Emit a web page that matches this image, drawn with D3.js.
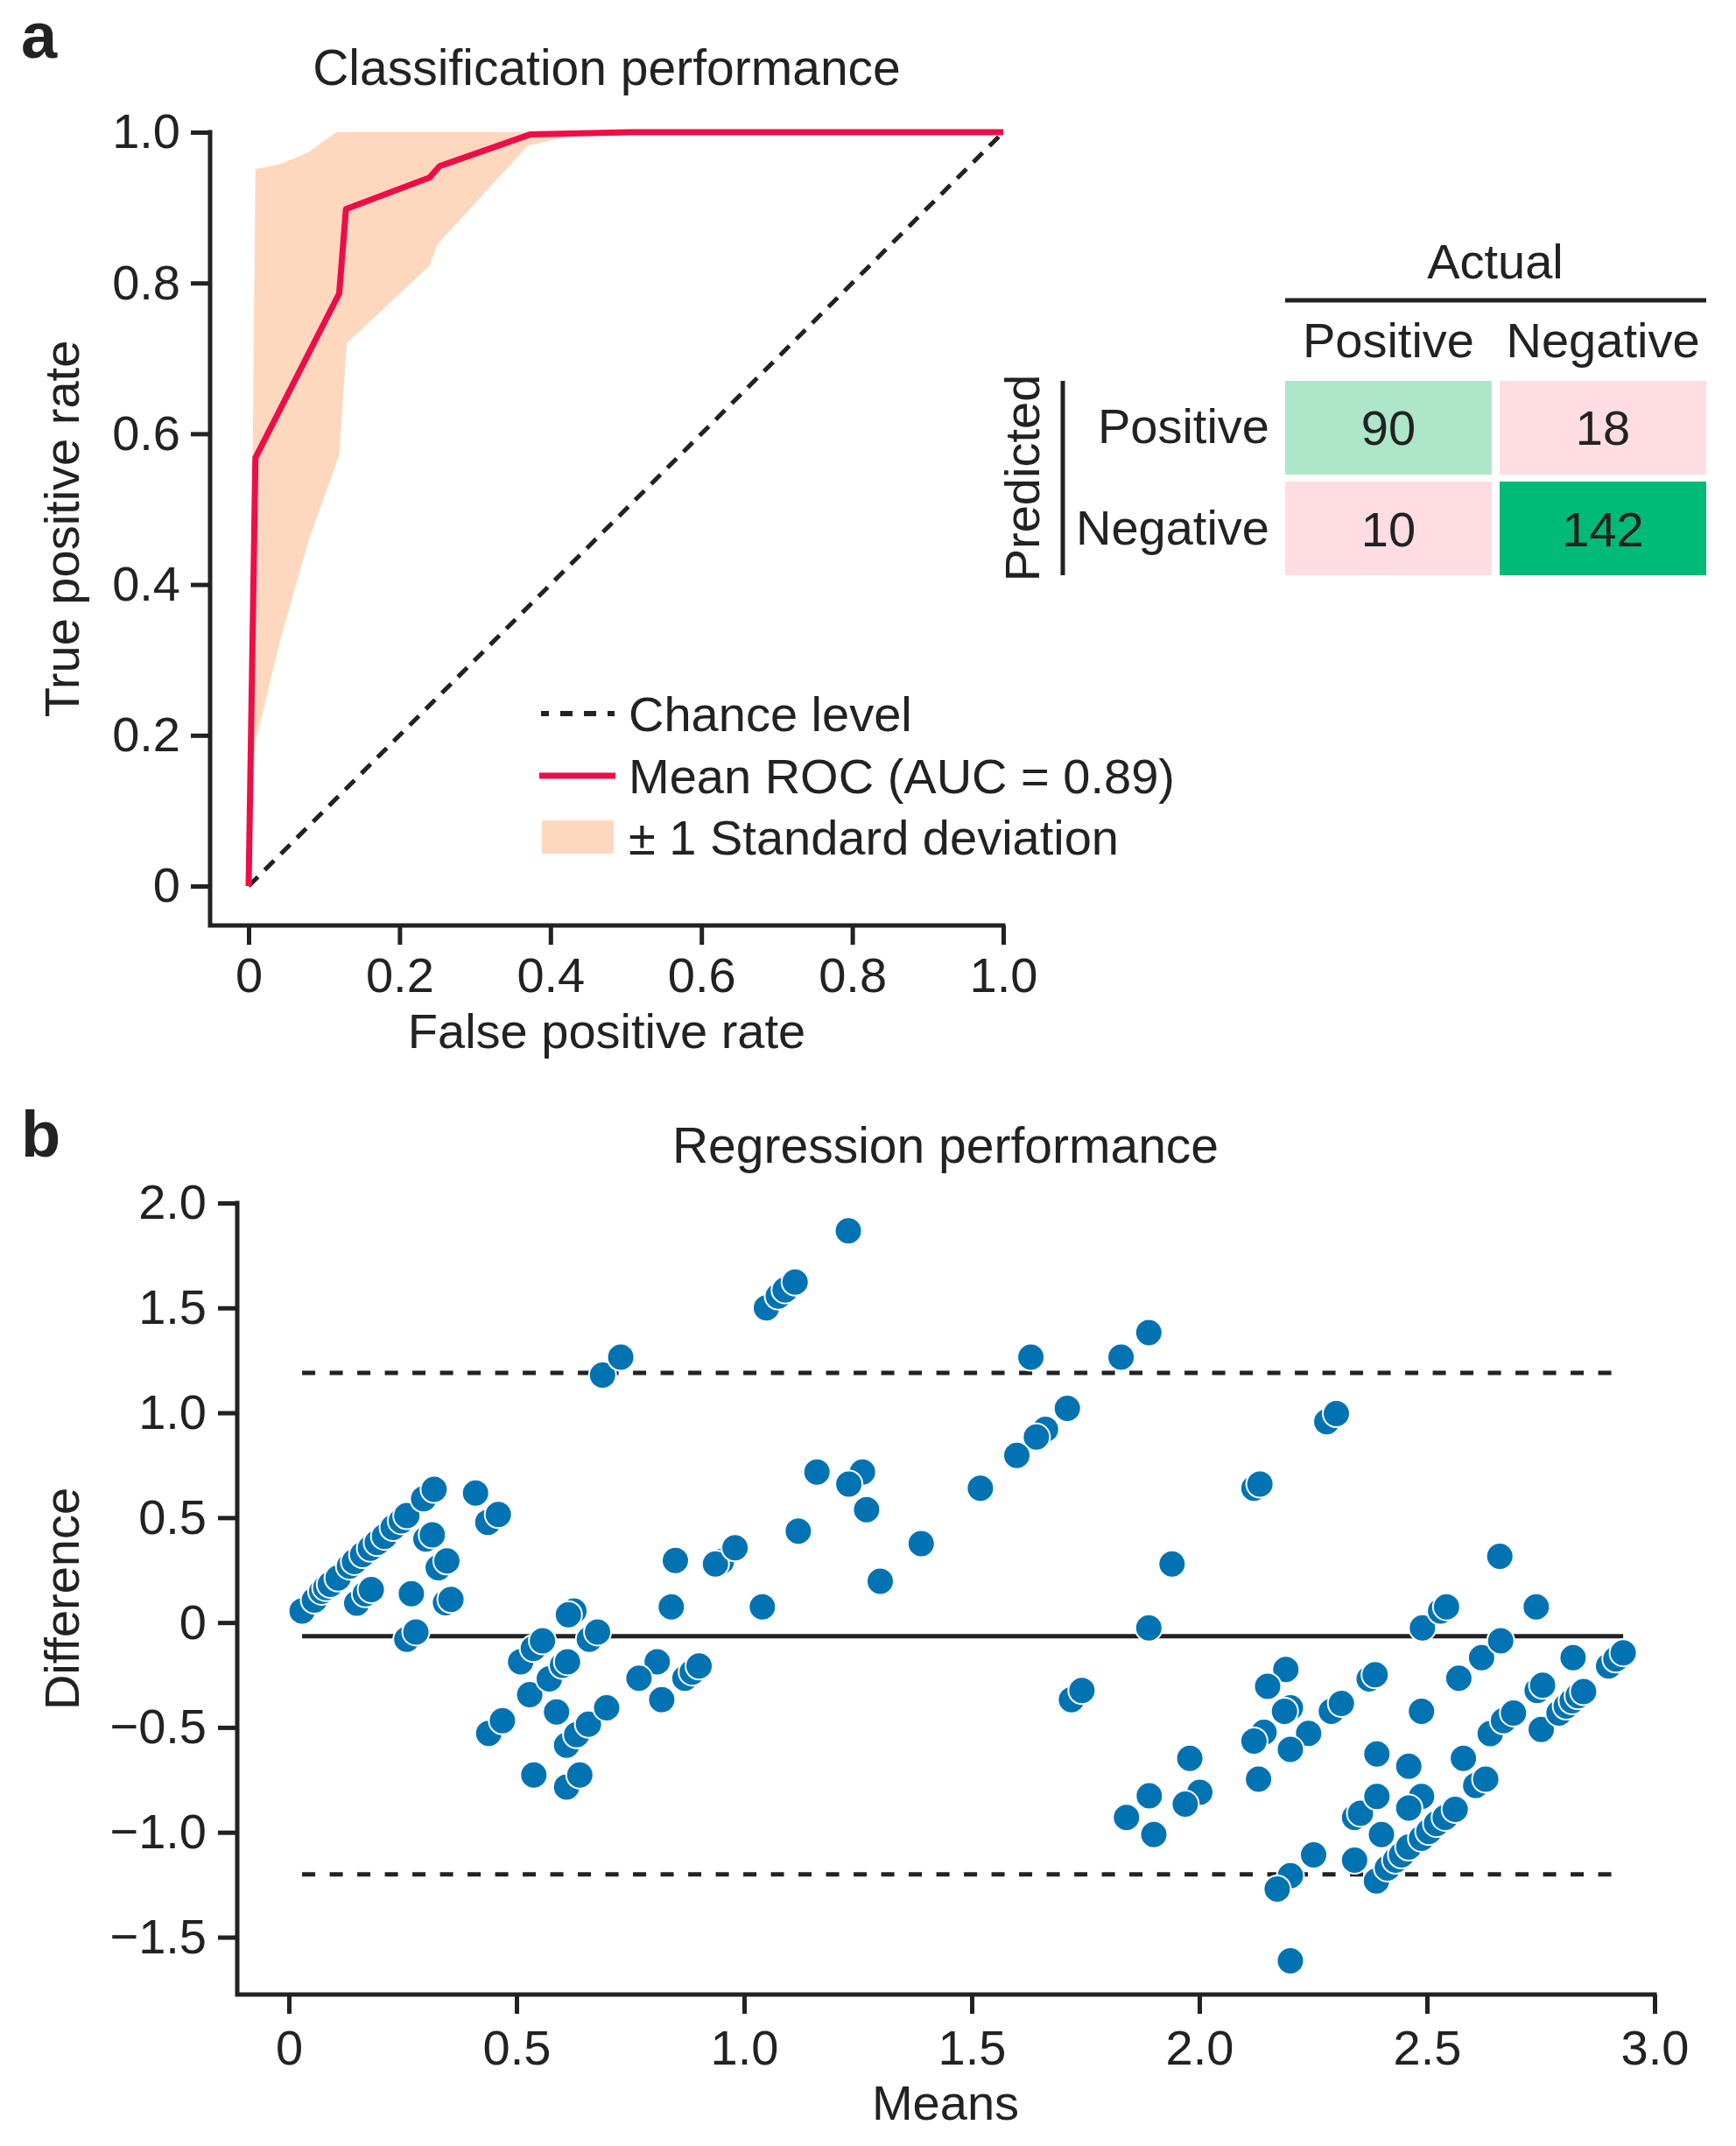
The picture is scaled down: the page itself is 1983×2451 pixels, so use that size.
<!DOCTYPE html>
<html>
<head>
<meta charset="utf-8">
<script src="https://cdn.jsdelivr.net/npm/d3@7"></script>
<style>
  body { margin: 0; background: #fff; }
  text { font-family: "Liberation Sans", Arial, sans-serif; fill: #222; }
</style>
</head>
<body>
<div id="chart"></div>
<script>
// ---- panel a: ROC ----
var rocFpr = [0, 0.009, 0.12, 0.129, 0.24, 0.253, 0.373, 0.507, 1.0];
var rocTpr = [0, 0.568, 0.786, 0.898, 0.940, 0.955, 0.997, 1.0, 1.0];

var bandFpr  = [0, 0.009, 0.043, 0.08, 0.116, 0.12, 0.13, 0.24, 0.25, 0.37, 0.45, 1.0];
var bandLow  = [0, 0.19, 0.33, 0.46, 0.56, 0.57, 0.72, 0.823, 0.851, 0.982, 1.0, 1.0];
var bandHigh = [0, 0.951, 0.958, 0.974, 1.0, 1.0, 1.0, 1.0, 1.0, 1.0, 1.0, 1.0];

var rocTicks = [0, 0.2, 0.4, 0.6, 0.8, 1.0];
var legendLabels = ["Chance level", "Mean ROC (AUC = 0.89)", "\u00b1 1 Standard deviation"];

// confusion matrix
var cmCols = ["Positive", "Negative"];
var cmRows = ["Positive", "Negative"];
var cmValues = [[90, 18], [10, 142]];

// ---- panel b: Bland-Altman ----
var baMeans = [
  0.029, 0.056, 0.072, 0.081, 0.091, 0.108, 0.133, 0.144, 0.162, 0.179, 0.194, 0.210, 0.229, 0.247, 0.259, 0.296, 0.319,
  0.149, 0.168, 0.181, 0.269, 0.259, 0.279, 0.301, 0.315, 0.328, 0.347, 0.344, 0.356, 0.410, 0.437, 0.460, 0.689, 0.729,
  0.439, 0.469, 0.509, 0.537, 0.557, 0.529, 0.572, 0.601, 0.612, 0.588, 0.610, 0.632, 0.658, 0.698, 0.538, 0.610, 0.639, 0.626, 0.614, 0.660, 0.678,
  1.229, 1.049, 1.075, 1.090, 1.112, 1.160, 1.260, 1.230, 1.269, 1.119, 1.299, 1.389, 0.849, 0.840, 1.040, 0.950, 0.937, 0.980, 0.809, 0.769, 0.819, 0.870, 0.886, 0.901,
  1.519, 1.630, 1.828, 1.889, 1.710, 1.662, 1.642, 1.599, 2.120, 2.133, 1.940, 1.889, 1.719, 1.742, 1.979, 2.001, 1.969, 1.890, 1.840, 1.900,
  2.190, 2.150, 2.200, 2.187, 2.142, 2.120, 2.240, 2.200, 2.130, 2.251, 2.200, 2.171, 2.200,
  2.280, 2.301, 2.290, 2.312, 2.373, 2.386, 2.390, 2.341, 2.354, 2.390, 2.400, 2.341,
  2.389, 2.413, 2.431, 2.444, 2.460, 2.488, 2.504, 2.521, 2.540, 2.562, 2.607, 2.629,
  2.460, 2.488, 2.460, 2.488, 2.490, 2.530, 2.543, 2.570, 2.620, 2.662, 2.660, 2.740, 2.821, 2.580, 2.639, 2.668, 2.690,
  2.742, 2.754, 2.751, 2.790, 2.806, 2.819, 2.832, 2.844, 2.899, 2.915, 2.931
];
var baDiffs = [
  0.055, 0.107, 0.149, 0.167, 0.182, 0.212, 0.269, 0.291, 0.324, 0.354, 0.381, 0.411, 0.453, 0.485, 0.510, 0.590, 0.635,
  0.092, 0.137, 0.157, 0.137, -0.080, -0.045, 0.398, 0.418, 0.261, 0.294, 0.095, 0.110, 0.617, 0.478, 0.515, 1.180, 1.265,
  -0.528, -0.468, -0.187, -0.124, -0.087, -0.344, -0.269, -0.204, -0.187, -0.426, -0.585, -0.535, -0.485, -0.406, -0.727, -0.784, -0.727, 0.055, 0.037, -0.080, -0.045,
  1.867, 1.500, 1.556, 1.586, 1.623, 0.717, 0.717, 0.660, 0.538, 0.436, 0.197, 0.376, 0.296, 0.075, 0.075, 0.291, 0.279, 0.356, -0.187, -0.266, -0.368, -0.266, -0.236, -0.207,
  0.640, 1.265, 1.265, 1.382, 1.021, 0.921, 0.884, 0.797, 0.640, 0.660, 0.279, -0.025, -0.368, -0.324, -0.647, -0.809, -0.866, -0.826, -0.929, -1.011,
  -0.224, -0.304, -0.406, -0.423, -0.523, -0.565, -0.528, -0.605, -0.747, -1.108, -1.207, -1.270, -1.613,
  0.958, 0.996, -0.423, -0.386, -0.269, -0.249, -0.627, -0.929, -0.909, -0.829, -1.011, -1.133,
  -1.232, -1.170, -1.133, -1.108, -1.070, -1.028, -0.996, -0.958, -0.929, -0.891, -0.777, -0.747,
  -0.685, -0.829, -0.884, -0.423, -0.025, 0.055, 0.075, -0.266, -0.167, -0.087, 0.316, 0.075, -0.167, -0.647, -0.530, -0.468, -0.431,
  -0.324, -0.299, -0.510, -0.431, -0.398, -0.373, -0.349, -0.329, -0.207, -0.174, -0.144
];
var meanDiff = -0.065;
var loaUpper = 1.19;
var loaLower = -1.20;

var baXTicks = [0, 0.5, 1.0, 1.5, 2.0, 2.5, 3.0];
var baYTicks = [-1.5, -1.0, -0.5, 0, 0.5, 1.0, 1.5, 2.0];

function init() {
    var w = 1983;
    var h = 2451;
    var ink = "#222";
    var fontSize = 56;
    var lineW = 5;

    var svg = d3.select("#chart")
                .append("svg")
                .attr("width", w)
                .attr("height", h)
                .style("display", "block");

    svg.append("rect").attr("width", w).attr("height", h).attr("fill", "#fff");

    var fmt = function(d) { return d === 0 ? "0" : d3.format(".1f")(d); };

    // spines offset from the data like seaborn despine(offset)
    function drawAxes(g, x, y, spineX, spineY, xTicks, yTicks, xPad, yPad) {
        g.append("path")
            .attr("d", "M" + spineX + "," + (y.range()[1] - lineW / 2) + "V" + spineY + "H" + (x.range()[1] + lineW / 2))
            .attr("fill", "none")
            .attr("stroke", ink)
            .attr("stroke-width", lineW);

        var xa = g.append("g")
            .attr("transform", "translate(0," + spineY + ")")
            .call(d3.axisBottom(x).tickValues(xTicks).tickFormat(fmt).tickSize(22).tickPadding(xPad));
        var ya = g.append("g")
            .attr("transform", "translate(" + spineX + ",0)")
            .call(d3.axisLeft(y).tickValues(yTicks).tickFormat(fmt).tickSize(22).tickPadding(yPad));

        [xa, ya].forEach(function(a) {
            a.select(".domain").remove();
            a.attr("font-size", null).attr("font-family", null);
            a.selectAll(".tick line").attr("stroke", ink).attr("stroke-width", lineW);
            a.selectAll(".tick text").attr("font-size", fontSize).attr("fill", ink);
        });
    }

    // ---------------- panel a ----------------
    var xA = d3.scaleLinear().domain([0, 1]).range([284, 1146]);
    var yA = d3.scaleLinear().domain([0, 1]).range([1012, 151]);
    var gA = svg.append("g");

    var band = d3.area()
        .x(function(d, i) { return xA(bandFpr[i]); })
        .y0(function(d, i) { return yA(bandLow[i]); })
        .y1(function(d, i) { return yA(bandHigh[i]); });
    gA.append("path")
        .attr("d", band(bandFpr))
        .attr("fill", "#fdd8bf");

    gA.append("line")
        .attr("x1", xA(0)).attr("y1", yA(0))
        .attr("x2", xA(1)).attr("y2", yA(1))
        .attr("stroke", ink)
        .attr("stroke-width", 5)
        .attr("stroke-dasharray", "15,11");

    var roc = d3.line()
        .x(function(d, i) { return xA(rocFpr[i]); })
        .y(function(d, i) { return yA(rocTpr[i]); });
    gA.append("path")
        .attr("d", roc(rocFpr))
        .attr("fill", "none")
        .attr("stroke", "#ec0f47")
        .attr("stroke-width", 7)
        .attr("stroke-linejoin", "round");

    drawAxes(gA, xA, yA, 240, 1057, rocTicks, rocTicks, 14, 12);

    gA.append("text").text("Classification performance")
        .attr("x", 693).attr("y", 97)
        .attr("text-anchor", "middle").attr("font-size", 57);
    gA.append("text").text("False positive rate")
        .attr("x", 693).attr("y", 1197)
        .attr("text-anchor", "middle").attr("font-size", fontSize);
    gA.append("text").text("True positive rate")
        .attr("transform", "translate(90,604) rotate(-90)")
        .attr("text-anchor", "middle").attr("font-size", fontSize);
    svg.append("text").text("a")
        .attr("x", 24).attr("y", 66)
        .attr("font-size", 74).attr("font-weight", "bold");

    // legend
    var lg = gA.append("g");
    var legendY = [815, 886, 956];
    lg.append("line")
        .attr("x1", 618).attr("x2", 702).attr("y1", legendY[0]).attr("y2", legendY[0])
        .attr("stroke", ink).attr("stroke-width", 6).attr("stroke-dasharray", "9,13,14,13,14,13,9");
    lg.append("line")
        .attr("x1", 616).attr("x2", 703).attr("y1", legendY[1]).attr("y2", legendY[1])
        .attr("stroke", "#ec0f47").attr("stroke-width", 7);
    lg.append("rect")
        .attr("x", 619).attr("y", legendY[2] - 19).attr("width", 82).attr("height", 38)
        .attr("fill", "#fdd8bf");
    lg.selectAll("text.leg")
        .data(legendLabels)
        .enter()
        .append("text")
        .attr("class", "leg")
        .text(function(d) { return d; })
        .attr("x", 718)
        .attr("y", function(d, i) { return legendY[i] + 20; })
        .attr("font-size", fontSize);

    // confusion matrix
    var cm = svg.append("g");
    var colX = d3.scaleBand().domain(cmCols).range([1468, 1949]).paddingInner(0.037);
    var rowY = d3.scaleBand().domain(cmRows).range([435, 657]).paddingInner(0.07);
    var green = d3.scaleLinear().domain([90, 142]).range(["#aee6ca", "#00ba78"]);

    var cells = [];
    cmRows.forEach(function(r, i) {
        cmCols.forEach(function(c, j) {
            cells.push({ row: r, col: c, value: cmValues[i][j], diag: i === j });
        });
    });

    cm.selectAll("rect")
        .data(cells)
        .enter()
        .append("rect")
        .attr("x", function(d) { return colX(d.col); })
        .attr("y", function(d) { return rowY(d.row); })
        .attr("width", colX.bandwidth())
        .attr("height", rowY.bandwidth())
        .attr("fill", function(d) { return d.diag ? green(d.value) : "#ffdde2"; });

    cm.selectAll("text.val")
        .data(cells)
        .enter()
        .append("text")
        .attr("class", "val")
        .text(function(d) { return d.value; })
        .attr("x", function(d) { return colX(d.col) + colX.bandwidth() / 2; })
        .attr("y", function(d) { return rowY(d.row) + rowY.bandwidth() / 2 + 20; })
        .attr("text-anchor", "middle")
        .attr("font-size", fontSize);

    cm.selectAll("text.colh")
        .data(cmCols)
        .enter()
        .append("text")
        .attr("class", "colh")
        .text(function(d) { return d; })
        .attr("x", function(d) { return colX(d) + colX.bandwidth() / 2; })
        .attr("y", 408)
        .attr("text-anchor", "middle")
        .attr("font-size", fontSize);

    cm.selectAll("text.rowh")
        .data(cmRows)
        .enter()
        .append("text")
        .attr("class", "rowh")
        .text(function(d) { return d; })
        .attr("x", 1450)
        .attr("y", function(d) { return rowY(d) + rowY.bandwidth() / 2 + 18; })
        .attr("text-anchor", "end")
        .attr("font-size", fontSize);

    cm.append("text").text("Actual")
        .attr("x", 1708).attr("y", 318)
        .attr("text-anchor", "middle").attr("font-size", fontSize);
    cm.append("line")
        .attr("x1", 1468).attr("x2", 1949).attr("y1", 343).attr("y2", 343)
        .attr("stroke", ink).attr("stroke-width", lineW);
    cm.append("line")
        .attr("x1", 1214).attr("x2", 1214).attr("y1", 435).attr("y2", 657)
        .attr("stroke", ink).attr("stroke-width", lineW);
    cm.append("text").text("Predicted")
        .attr("transform", "translate(1187,546) rotate(-90)")
        .attr("text-anchor", "middle").attr("font-size", fontSize);

    // ---------------- panel b ----------------
    var xB = d3.scaleLinear().domain([0, 3]).range([330, 1890]);
    var yB = d3.scaleLinear().domain([-1.5, 2]).range([2212.5, 1374]);
    var gB = svg.append("g");

    drawAxes(gB, xB, yB, 271, 2278, baXTicks, baYTicks, 18, 13);

    var xMin = d3.min(baMeans), xMax = d3.max(baMeans);
    gB.append("line")
        .attr("x1", xB(xMin)).attr("x2", xB(xMax))
        .attr("y1", yB(meanDiff)).attr("y2", yB(meanDiff))
        .attr("stroke", ink).attr("stroke-width", lineW);
    [loaUpper, loaLower].forEach(function(v) {
        gB.append("line")
            .attr("x1", xB(xMin)).attr("x2", xB(xMax))
            .attr("y1", yB(v)).attr("y2", yB(v))
            .attr("stroke", ink).attr("stroke-width", lineW)
            .attr("stroke-dasharray", "15,16.5");
    });

    gB.selectAll("circle")
        .data(baMeans)
        .enter()
        .append("circle")
        .attr("cx", function(d) { return xB(d); })
        .attr("cy", function(d, i) { return yB(baDiffs[i]); })
        .attr("r", 15.5)
        .attr("fill", "#0173b2")
        .attr("stroke", "#fff")
        .attr("stroke-width", 2);

    gB.append("text").text("Regression performance")
        .attr("x", 1080).attr("y", 1328)
        .attr("text-anchor", "middle").attr("font-size", 57);
    gB.append("text").text("Means")
        .attr("x", 1080).attr("y", 2421)
        .attr("text-anchor", "middle").attr("font-size", fontSize);
    gB.append("text").text("Difference")
        .attr("transform", "translate(90,1826) rotate(-90)")
        .attr("text-anchor", "middle").attr("font-size", fontSize);
    svg.append("text").text("b")
        .attr("x", 24).attr("y", 1321)
        .attr("font-size", 74).attr("font-weight", "bold");
}

window.onload = init;
</script>
</body>
</html>
